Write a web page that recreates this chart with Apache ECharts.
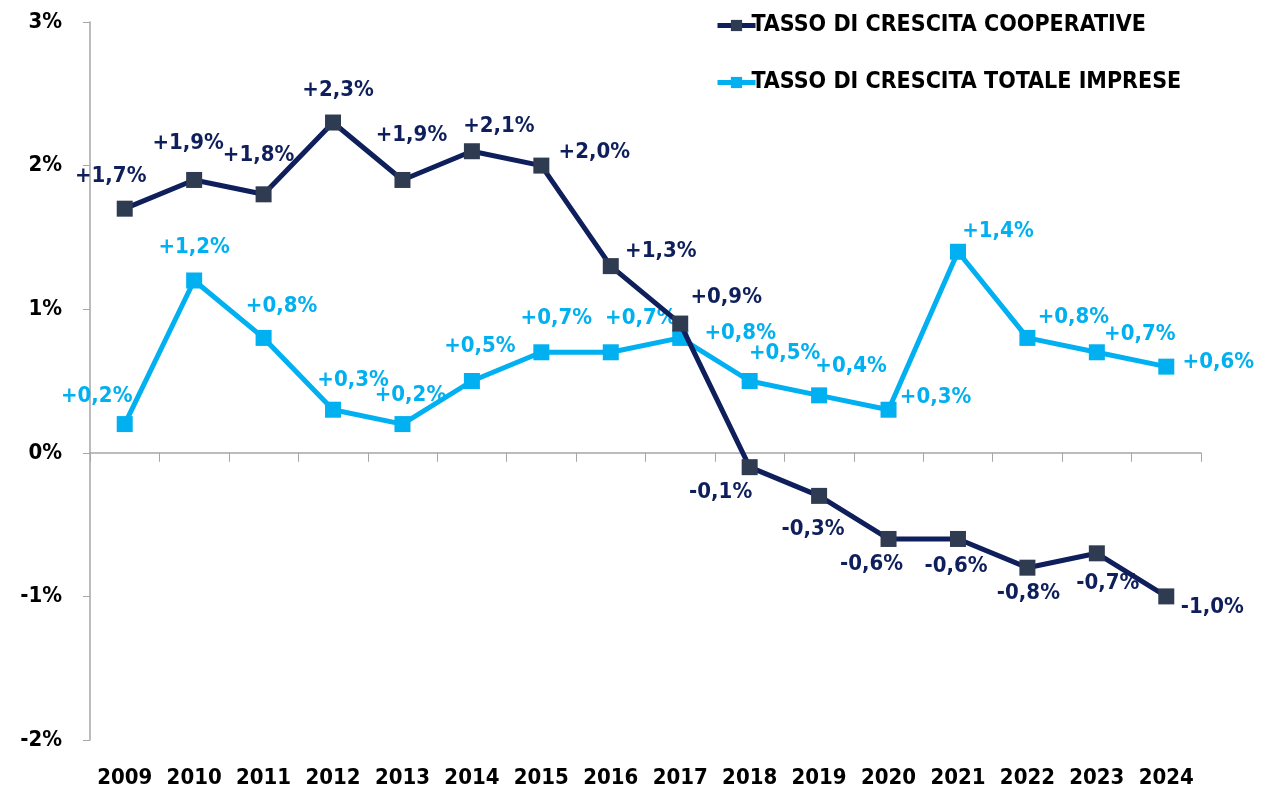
<!DOCTYPE html>
<html>
<head>
<meta charset="utf-8">
<title>Tasso di crescita</title>
<style>
    html, body {margin:0;padding:0;background:#fff;}
    #main {width:1261px;height:793px;}
</style>
</head>
<body>
<div id="main"></div>
<script src="https://cdn.jsdelivr.net/npm/echarts@6/dist/echarts.min.js"></script>
<script type="text/javascript">
    // dati
    var anni = ['2009','2010','2011','2012','2013','2014','2015','2016','2017','2018','2019','2020','2021','2022','2023','2024'];
    var cooperative = [1.7,1.9,1.8,2.3,1.9,2.1,2.0,1.3,0.9,-0.1,-0.3,-0.6,-0.6,-0.8,-0.7,-1.0];
    var totaleImprese = [0.2,1.2,0.8,0.3,0.2,0.5,0.7,0.7,0.8,0.5,0.4,0.3,1.4,0.8,0.7,0.6];
    var yTicks = [-2,-1,0,1,2,3];

    // spostamento delle etichette rispetto al punto (come nel grafico excel)
    var offCoop = [[-14,-32],[-6,-37],[-5,-39],[5,-32],[9,-45],[27,-25],[53,-13],[50,-15],[46,-26],
        [-29,25],[-6,33],[-17,25],[-2,27],[1,26],[11,30],[46,11]];
    var offTot = [[-28,-28],[0,-33],[18,-32],[20,-29],[8,-29],[8,-35],[15,-34],[30,-34],[60,-5],
        [35,-28],[32,-29],[47,-12],[40,-20],[46,-21],[43,-18],[52,-4]];

    var font = '"DejaVu Sans Condensed", "Liberation Sans", sans-serif';
    var blu = '#0f1f5c', bluMarker = '#2f3b50', azzurro = '#00b0f0';

    function fmt(v) {
        return (v > 0 ? '+' : '') + v.toFixed(1).replace('.', ',') + '%';
    }

    function punti(valori, off) {
        return valori.map(function (v, i) {
            return {value: v, label: {offset: off[i]}};
        });
    }

    var myChart = echarts.init(document.getElementById('main'));
    myChart.setOption({
        backgroundColor: '#fff',
        animation: false,
        textStyle: {fontFamily: font},
        grid: {left: 90, right: 60, top: 22, bottom: 53},
        legend: {
            orient: 'vertical',
            left: 710,
            top: 9,
            itemGap: 34,
            itemWidth: 38,
            itemHeight: 14,
            lineStyle: {width: 5},
            textStyle: {fontFamily: font, fontWeight: 'bold', fontSize: 23, color: '#000', padding: [0, 0, 0, -9]},
            data: ['TASSO DI CRESCITA COOPERATIVE', 'TASSO DI CRESCITA TOTALE IMPRESE']
        },
        xAxis: [{
            type: 'category',
            data: anni,
            boundaryGap: true,
            axisLine: {onZero: true, lineStyle: {color: '#a6a6a6', width: 1.5}},
            axisTick: {show: true, length: 9, inside: false, lineStyle: {color: '#a6a6a6'}},
            axisLabel: {show: false}
        }, {
            type: 'category',
            data: anni,
            position: 'bottom',
            boundaryGap: true,
            axisLine: {show: false},
            axisTick: {show: false},
            axisLabel: {interval: 0, fontFamily: font, fontWeight: 'bold', fontSize: 22, color: '#000', margin: 27}
        }],
        yAxis: {
            type: 'value',
            min: yTicks[0],
            max: yTicks[yTicks.length - 1],
            interval: 1,
            splitLine: {show: false},
            axisLine: {show: true, lineStyle: {color: '#a6a6a6', width: 1.5}},
            axisTick: {show: true, length: 7, lineStyle: {color: '#a6a6a6'}},
            axisLabel: {
                fontFamily: font, fontWeight: 'bold', fontSize: 22, color: '#000', margin: 28,
                formatter: function (v) { return v + '%'; }
            }
        },
        series: [{
            name: 'TASSO DI CRESCITA COOPERATIVE',
            type: 'line',
            xAxisIndex: 0,
            data: punti(cooperative, offCoop),
            symbol: 'rect',
            symbolSize: 16,
            z: 3,
            lineStyle: {color: blu, width: 5},
            itemStyle: {color: bluMarker},
            label: {
                show: true, position: 'inside', color: blu,
                fontFamily: font, fontWeight: 'bold', fontSize: 22,
                formatter: function (p) { return fmt(p.value); }
            }
        }, {
            name: 'TASSO DI CRESCITA TOTALE IMPRESE',
            type: 'line',
            xAxisIndex: 0,
            data: punti(totaleImprese, offTot),
            symbol: 'rect',
            symbolSize: 16,
            z: 2,
            lineStyle: {color: azzurro, width: 5},
            itemStyle: {color: azzurro},
            label: {
                show: true, position: 'inside', color: azzurro,
                fontFamily: font, fontWeight: 'bold', fontSize: 22,
                formatter: function (p) { return fmt(p.value); }
            }
        }]
    });
</script>
</body>
</html>
